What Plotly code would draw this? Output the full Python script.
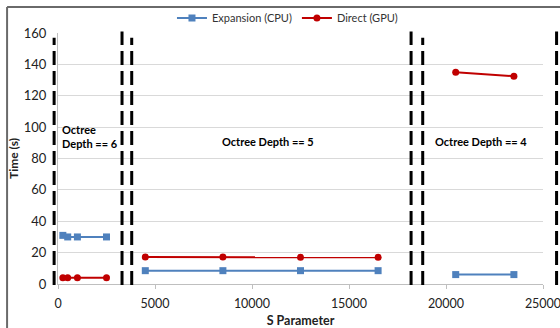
import plotly.graph_objects as go

# Data
cpu_x = [250, 500, 1000, 2500, None, 4500, 8500, 12500, 16500, None, 20500, 23500]
cpu_y = [31, 30, 30, 30, None, 8.5, 8.5, 8.5, 8.5, None, 6, 6]
gpu_x = [250, 500, 1000, 2500, None, 4500, 8500, 12500, 16500, None, 20500, 23500]
gpu_y = [4, 4, 4, 4, None, 17.2, 17.2, 17, 17, None, 135, 132.5]

divider_x = [-200, 3300, 3800, 18200, 18800, 25700]
divider_top = [157, 161, 157, 161, 157, 161]

labels = ["Octree<br>Depth == 6", "Octree Depth == 5", "Octree Depth == 4"]
label_x = [100, 10800, 21800]
label_y = [94, 91, 91]

X_MAX = 25000
Y_MAX = 160

BLUE = "#4F81BD"
RED = "#C00000"
FONT = "Lato, Open Sans, sans-serif"

fig = go.Figure()
fig.add_trace(go.Scatter(x=cpu_x, y=cpu_y, mode="lines+markers", name="Expansion (CPU)",
                         line=dict(color=BLUE, width=2), marker=dict(symbol="square", size=7, color=BLUE),
                         connectgaps=False))
fig.add_trace(go.Scatter(x=gpu_x, y=gpu_y, mode="lines+markers", name="Direct (GPU)",
                         line=dict(color=RED, width=2), marker=dict(symbol="circle", size=7, color=RED),
                         connectgaps=False))

for xv, top in zip(divider_x, divider_top):
    fig.add_shape(type="line", xref="x domain", yref="y domain",
                  x0=xv / X_MAX, x1=xv / X_MAX, y0=-0.004, y1=top / Y_MAX,
                  line=dict(color="black", width=3, dash="14px,6px"), layer="above")

for t, xv, yv in zip(labels, label_x, label_y):
    fig.add_annotation(x=xv, y=yv, text="<b>" + t + "</b>", showarrow=False, xref="x", yref="y",
                       xanchor="left" if "6" in t else "center", align="left",
                       font=dict(family=FONT, size=11, color="black"))

# outer frame
fig.add_shape(type="line", xref="paper", yref="paper", x0=-0.105, x1=1.04, y0=1.104, y1=1.104,
              line=dict(color="#6a6a6a", width=2))
fig.add_shape(type="line", xref="paper", yref="paper", x0=-0.105, x1=-0.105, y0=1.104, y1=-0.2,
              line=dict(color="#6a6a6a", width=2))

fig.update_layout(
    width=560, height=328,
    margin=dict(l=58, r=17, t=33, b=44, autoexpand=False),
    paper_bgcolor="white", plot_bgcolor="white",
    font=dict(family=FONT, size=12, color="#222"),
    showlegend=True,
    legend=dict(orientation="h", x=0.235, y=1.06, xanchor="left", yanchor="middle",
                font=dict(family=FONT, size=11, color="#333"), bgcolor="rgba(0,0,0,0)",
                itemwidth=30, tracegroupgap=0),
    xaxis=dict(range=[0, X_MAX], tickvals=[0, 5000, 10000, 15000, 20000, 25000], tickformat="d",
               showgrid=False, zeroline=False, showline=True, linecolor="#BFBFBF", linewidth=1,
               ticks="outside", ticklen=4, tickcolor="#BFBFBF", automargin=False, ticklabelstandoff=4,
               ticklabeloverflow="allow",
               title=dict(text="<b>S Parameter</b>", font=dict(family=FONT, size=12.5, color="#222"), standoff=10),
               tickfont=dict(family=FONT, size=12.5, color="#222")),
    yaxis=dict(range=[0, Y_MAX], tickvals=[0, 20, 40, 60, 80, 100, 120, 140, 160],
               showgrid=True, gridcolor="#D9D9D9", gridwidth=1, zeroline=False,
               showline=True, linecolor="#BFBFBF", automargin=False, ticklabelstandoff=8,
               ticks="", title=dict(text="<b>Time (s)</b>", font=dict(family=FONT, size=12, color="#222"), standoff=2),
               tickfont=dict(family=FONT, size=13, color="#222")),
)

fig.write_html("out.html", post_script="document.body.style.margin='0';",
               config={"displayModeBar": False})
